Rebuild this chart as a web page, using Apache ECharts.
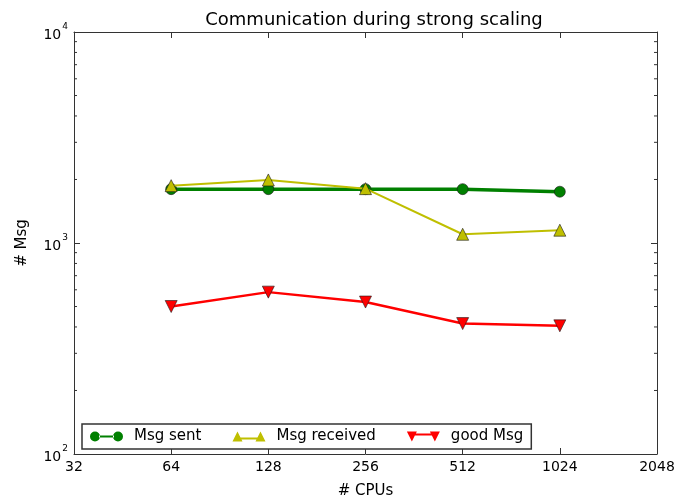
<!DOCTYPE html>
<html>
<head>
<meta charset="utf-8">
<script src="https://cdn.jsdelivr.net/npm/echarts@6/dist/echarts.min.js"></script>
<style>html,body{margin:0;padding:0;background:#fff;}#c{width:690px;height:504px;}</style>
</head>
<body>
<div id="c"></div>
<script>
const cpus = [64, 128, 256, 512, 1024];
const msgSent = [1800, 1800, 1800, 1800, 1750];
const msgReceived = [1870, 1990, 1810, 1100, 1150];
const goodMsg = [500, 585, 525, 415, 405];
const seriesNames = ['Msg sent', 'Msg received', 'good Msg'];
const yMinorTicks = [200, 300, 400, 500, 600, 700, 800, 900, 2000, 3000, 4000, 5000, 6000, 7000, 8000, 9000];
const xMin = 32, xMax = 2048, yMin = 100, yMax = 10000;

const FONT = 'DejaVu Sans';
const chart = echarts.init(document.getElementById('c'), null, {renderer: 'canvas'});

const circIcon = 'path://M0,5A5,5 0 1,0 10,5A5,5 0 1,0 0,5Z M9,4L24,4L24,6L9,6Z M23,5A5,5 0 1,0 33,5A5,5 0 1,0 23,5Z';
const upIcon = 'path://M0,10L5,0L10,10Z M8,6L25,6L25,8L8,8Z M23,10L28,0L33,10Z';
const downIcon = 'path://M0,0L10,0L5,10Z M8,2L25,2L25,4L8,4Z M23,0L33,0L28,10Z';

function pairs(vals) { return cpus.map((c, i) => [c, vals[i]]); }

function minorTickSeries(xAt, dir) {
  return {
    type: 'custom', silent: true, z: 5,
    data: yMinorTicks.map(v => [xAt, v]),
    renderItem: function (params, api) {
      const p = api.coord([api.value(0), api.value(1)]);
      return {type: 'line', shape: {x1: p[0], y1: p[1], x2: p[0] + dir * 3, y2: p[1]},
              style: {stroke: '#333', lineWidth: 1}};
    }
  };
}

const axisLine = {show: true, lineStyle: {color: '#333', width: 1}};
const majorTick = {show: true, inside: true, length: 6, lineStyle: {color: '#333', width: 1}};

chart.setOption({
  animation: false,
  backgroundColor: '#fff',
  title: {
    text: 'Communication during strong scaling',
    left: 369, top: 6, textAlign: 'center',
    textStyle: {fontFamily: FONT, fontSize: 18, fontWeight: 'normal', color: '#000'}
  },
  grid: {left: 74, right: 33, top: 32, bottom: 43, containLabel: false},
  legend: {
    data: [
      {name: seriesNames[0], icon: circIcon},
      {name: seriesNames[1], icon: upIcon},
      {name: seriesNames[2], icon: downIcon}
    ],
    left: 82, top: 424,
    orient: 'horizontal',
    itemWidth: 33, itemHeight: 10, itemGap: 31,
    padding: [5, 8, 5, 8],
    borderColor: '#333', borderWidth: 1.5, borderRadius: 0,
    backgroundColor: '#fff',
    itemStyle: {borderWidth: 0},
    textStyle: {fontFamily: FONT, fontSize: 15, color: '#000', padding: [0, 0, 0, 6]}
  },
  xAxis: [
    {
      type: 'log', logBase: 2, min: xMin, max: xMax, interval: 1,
      name: '# CPUs', nameLocation: 'middle', nameGap: 30,
      nameTextStyle: {fontFamily: FONT, fontSize: 15, color: '#000'},
      axisLine: axisLine, axisTick: majorTick,
      axisLabel: {fontFamily: FONT, fontSize: 14, color: '#000', margin: 6,
                  formatter: v => String(Math.round(v))},
      splitLine: {show: false}
    },
    {
      type: 'log', logBase: 2, min: xMin, max: xMax, interval: 1, position: 'top',
      axisLine: axisLine, axisTick: majorTick, axisLabel: {show: false}, splitLine: {show: false}
    }
  ],
  yAxis: [
    {
      type: 'log', logBase: 10, min: yMin, max: yMax, interval: 1,
      name: '# Msg', nameLocation: 'middle', nameGap: 44,
      nameTextStyle: {fontFamily: FONT, fontSize: 15, color: '#000'},
      axisLine: axisLine, axisTick: majorTick,
      axisLabel: {
        fontFamily: FONT, color: '#000', margin: 6,
        formatter: v => '{a|10}{b|' + Math.round(Math.log10(v)) + '}',
        rich: {
          a: {fontFamily: FONT, fontSize: 14, color: '#000', padding: [6, 0, 0, 0]},
          b: {fontFamily: FONT, fontSize: 9, color: '#000', verticalAlign: 'top', padding: [0, 0, 6, 1]}
        }
      },
      splitLine: {show: false}
    },
    {
      type: 'log', logBase: 10, min: yMin, max: yMax, interval: 1, position: 'right',
      axisLine: axisLine, axisTick: majorTick, axisLabel: {show: false}, splitLine: {show: false}
    }
  ],
  series: [
    {
      name: seriesNames[0], type: 'line', data: pairs(msgSent),
      symbol: 'circle', symbolSize: 11, z: 3,
      lineStyle: {color: '#008000', width: 3.5},
      itemStyle: {color: '#008000', borderColor: '#1a1a1a', borderWidth: 0.6}
    },
    {
      name: seriesNames[1], type: 'line', data: pairs(msgReceived),
      symbol: 'triangle', symbolSize: 12, z: 4,
      lineStyle: {color: '#bfbf00', width: 2},
      itemStyle: {color: '#bfbf00', borderColor: '#1a1a1a', borderWidth: 0.6}
    },
    {
      name: seriesNames[2], type: 'line', data: pairs(goodMsg),
      symbol: 'triangle', symbolRotate: 180, symbolSize: 12, z: 3,
      lineStyle: {color: '#ff0000', width: 2.5},
      itemStyle: {color: '#ff0000', borderColor: '#1a1a1a', borderWidth: 0.6}
    },
    minorTickSeries(xMin, 1),
    minorTickSeries(xMax, -1)
  ]
});
</script>
</body>
</html>
